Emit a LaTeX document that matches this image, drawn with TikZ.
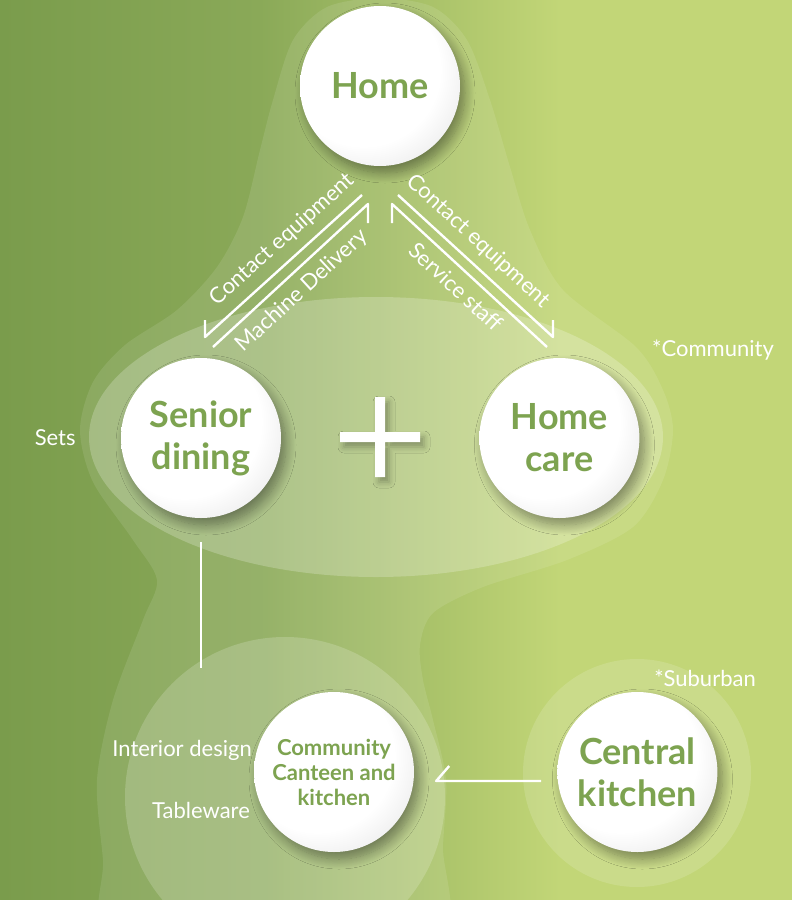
\documentclass[tikz,border=0pt]{standalone}
\usepackage{fontspec}
\setmainfont{Lato}
\usetikzlibrary{positioning,shadows.blur}

\definecolor{leafDark}{HTML}{7A9C4C}
\definecolor{leafMid}{HTML}{8AA958}
\definecolor{leafLight}{HTML}{C2D677}
\definecolor{discText}{HTML}{7DA350}

\pgfdeclareradialshading{discball}{\pgfpoint{-10bp}{10bp}}{%
  color(0bp)=(white); color(24bp)=(white); color(40bp)=(black!13); color(50bp)=(black!13)}

\begin{document}
\begin{tikzpicture}[x=1pt, y=-1pt, node distance=0pt,
DiscStyle/.style={circle, minimum size=160pt, inner sep=0pt, align=center,
  shading=discball, text=discText, font=\bfseries\fontsize{36}{42}\selectfont,
  blur shadow={shadow xshift=5pt, shadow yshift=-7pt, shadow blur radius=10pt,
  shadow blur steps=12, shadow opacity=40}},
FlowStyle/.style={draw=white, line width=2.4pt, line join=round},
NoteStyle/.style={text=white, font=\fontsize{22}{26}\selectfont, inner sep=1pt},
HaloStyle/.style={fill=white, fill opacity=#1},
]
\useasboundingbox (0,0) rectangle (792,900);

% background
\fill[leafLight] (0,0) rectangle (792,900);
\shade[left color=leafDark, right color=leafMid] (0,0) rectangle (260,900);
\shade[left color=leafMid, right color=leafLight] (259.5,0) rectangle (560,900);

% community and suburban areas
\begin{scope}
\clip (0,0) rectangle (792,900);
\fill[HaloStyle=0.1] plot[smooth cycle, tension=0.5] coordinates {
  (110,940) (103,860) (97,780) (113,700) (143,620) (157,580) (133,540)
  (93,482) (80,430) (93,382) (125,345) (177,310) (217,267) (243,217)
  (260,150) (273,100) (293,40) (327,7) (380,-2) (433,7) (467,40)
  (490,100) (510,167) (530,230) (563,290) (636,347) (663,390) (673,430)
  (663,480) (633,527) (567,560) (483,587) (433,613) (420,645) (423,680)
  (433,720) (446,780) (443,847) (440,940) (275,960)};
\fill[HaloStyle=0.22] (376,437) ellipse [x radius=287, y radius=140];
\fill[HaloStyle=0.18] (285,797) circle [radius=160];
\fill[HaloStyle=0.14] (637,773) circle [radius=114];
\end{scope}

% plus sign
\fill[white, blur shadow={shadow xshift=4pt, shadow yshift=-5pt,
  shadow blur radius=6pt, shadow opacity=30}]
  (375,397) rectangle (385,477) (340,432) rectangle (420,442);

% discs
\node [DiscStyle] (home) at (380,86) {Home};
\node [DiscStyle] (dining) at (201,438) {Senior\\dining};
\node [DiscStyle, right=198pt of dining] (care) {Home\\care};
\node [DiscStyle, font=\bfseries\fontsize{22}{25}\selectfont] (canteen)
  at (334,772) {Community\\Canteen and\\kitchen};
\node [DiscStyle, right=143pt of canteen] (central) {Central\\kitchen};

% notes
\node [NoteStyle, left=44pt of dining] (sets) {Sets};
\node [NoteStyle] (community) at (713,350) {*Community};
\node [NoteStyle] (suburban) at (705,678) {*Suburban};
\node [NoteStyle, anchor=east] (interior) at (253,750) {Interior design};
\node [NoteStyle] (tableware) at (201,810) {Tableware};

% flows between home and the two services
\coordinate (lob) at (205,320);
\coordinate (loc) at (205,337);
\coordinate (lot) at (362,195);
\coordinate (lib) at (213,347);
\coordinate (lit) at (368,204);
\coordinate (lie) at (368,223);
\coordinate (rot) at (398,195);
\coordinate (roc) at (553,337);
\coordinate (rob) at (553,320);
\coordinate (rie) at (392,223);
\coordinate (rit) at (392,204);
\coordinate (rib) at (547,347);

\draw[FlowStyle] (lob) -- (loc) -- node[NoteStyle, sloped, above=8pt, pos=0.58]
  {Contact equipment} (lot);
\draw[FlowStyle] (lib) -- node[NoteStyle, sloped, below=7pt, pos=0.49]
  {Machine Delivery} (lit) -- (lie);
\draw[FlowStyle] (rot) -- node[NoteStyle, sloped, above=8pt, pos=0.43]
  {Contact equipment} (roc) -- (rob);
\draw[FlowStyle] (rie) -- (rit) -- node[NoteStyle, sloped, below=7pt, pos=0.49]
  {Service staff} (rib);

% dining to canteen, central kitchen to canteen
\draw[FlowStyle] ([yshift=-24pt]dining.south) -- ++(0,126);
\draw[FlowStyle] ([shift={(-16pt,-9pt)}]central.west)
  -- ([shift={(22pt,-9pt)}]canteen.east) -- ++(13,-15);
\end{tikzpicture}
\end{document}
